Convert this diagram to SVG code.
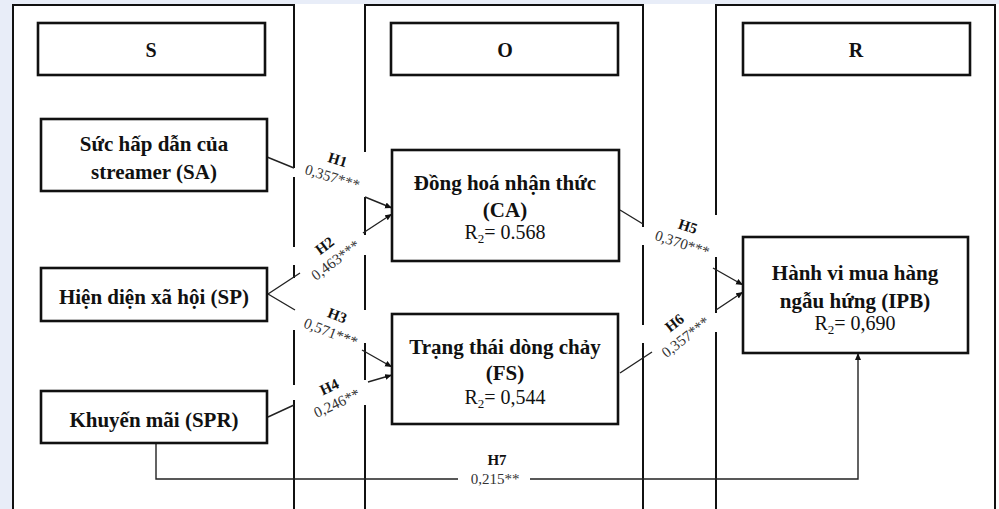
<svg xmlns="http://www.w3.org/2000/svg" width="999" height="509" viewBox="0 0 999 509">
<style>
.bg{fill:#e8edf8}
.panel{fill:none;stroke:#111;stroke-width:2}
.box{fill:#fff;stroke:#111;stroke-width:2.6}
.t{font-family:"Liberation Serif","Times New Roman",serif;fill:#111;text-anchor:middle}
.b{font-weight:bold;font-size:21px}
.h{font-weight:bold;font-size:20px}
.r{font-size:20px}
.lh{font-weight:bold;font-size:15px}
.lv{font-size:15px;fill:#333}
.c{fill:none;stroke:#222;stroke-width:1.4}
</style>
<defs>
<marker id="ah" markerUnits="userSpaceOnUse" markerWidth="8" markerHeight="7" refX="7" refY="3" orient="auto">
<path d="M0,0 L7,3 L0,6 z" fill="#111"/>
</marker>
</defs>
<rect class="bg" x="0" y="0" width="999" height="509"/>
<rect x="12" y="4" width="987" height="505" fill="#fff"/>

<g id="panel-S">
<path class="panel" d="M13,520 V5 H294 V168 M294,177 V247 M294,265 V278 M294,330 V385 M294,400 V520"/>
<rect class="box" x="38" y="23" width="227" height="52"/>
<text class="t h" x="151" y="57">S</text>
</g>
<g id="panel-O">
<path class="panel" d="M365,152 V5 H643 V227 M643,245 V325 M643,343 V520 M365,197 V235 M365,255 V310 M365,343 V380 M365,405 V520"/>
<rect class="box" x="391" y="23" width="227" height="52"/>
<text class="t h" x="505" y="57">O</text>
</g>
<g id="panel-R">
<path class="panel" d="M716,215 V5 H995 V520 M716,257 V313 M716,332 V520"/>
<rect class="box" x="743" y="23" width="227" height="52"/>
<text class="t h" x="856" y="57">R</text>
</g>

<g id="connectors">
<path class="c" d="M267,157 L294,168 M365,197 L392,208" marker-end="url(#ah)"/>
<path class="c" d="M268,294 L300,273 M363,233 L392,214" marker-end="url(#ah)"/>
<path class="c" d="M268,294 L295,310 M362,350 L392,367" marker-end="url(#ah)"/>
<path class="c" d="M268,417 L294,405 M368,382 L392,375" marker-end="url(#ah)"/>
<path class="c" d="M620,210 L643,224 M713,268 L743,285" marker-end="url(#ah)"/>
<path class="c" d="M620,373 L652,352 M716,310 L743,292" marker-end="url(#ah)"/>
<path class="c" d="M156,443 V479 H458 M530,479 H858 V353" stroke="#444" stroke-width="1.2" marker-end="url(#ah)"/>
</g>

<g id="labels">
<g transform="translate(335,168.5) rotate(17)"><text class="t lh" x="0" y="-4">H1</text><text class="t lv" x="0" y="14">0,357***</text></g>
<g transform="translate(330,253) rotate(-37)"><text class="t lh" x="0" y="-4">H2</text><text class="t lv" x="0" y="14">0,463***</text></g>
<g transform="translate(334,324) rotate(21)"><text class="t lh" x="0" y="-4">H3</text><text class="t lv" x="0" y="14">0,571***</text></g>
<g transform="translate(333,395) rotate(-25)"><text class="t lh" x="0" y="-4">H4</text><text class="t lv" x="0" y="14">0,246**</text></g>
<g transform="translate(685,235) rotate(18)"><text class="t lh" x="0" y="-4">H5</text><text class="t lv" x="0" y="14">0,370***</text></g>
<g transform="translate(680,330) rotate(-38)"><text class="t lh" x="0" y="-4">H6</text><text class="t lv" x="0" y="14">0,357***</text></g>
<g><text class="t lh" x="497" y="465">H7</text><text class="t lv" x="495" y="484">0,215**</text></g>
</g>

<g id="SA">
<rect class="box" x="41" y="119" width="226" height="72"/>
<text class="t b" x="154" y="151">Sức hấp dẫn của</text>
<text class="t b" x="154" y="179">streamer (SA)</text>
</g>
<g id="SP">
<rect class="box" x="41" y="268" width="226" height="53"/>
<text class="t b" x="154" y="304">Hiện diện xã hội (SP)</text>
</g>
<g id="SPR">
<rect class="box" x="41" y="391" width="226" height="52"/>
<text class="t b" x="154" y="427">Khuyến mãi (SPR)</text>
</g>
<g id="CA">
<rect class="box" x="392" y="150" width="227" height="111"/>
<text class="t b" x="505" y="190">Đồng hoá nhận thức</text>
<text class="t b" x="505" y="217">(CA)</text>
<text class="t r" x="505" y="239">R<tspan font-size="13" dy="4">2</tspan><tspan dy="-4">= 0.568</tspan></text>
</g>
<g id="FS">
<rect class="box" x="392" y="314" width="226" height="110"/>
<text class="t b" x="505" y="354">Trạng thái dòng chảy</text>
<text class="t b" x="505" y="380">(FS)</text>
<text class="t r" x="505" y="404">R<tspan font-size="13" dy="4">2</tspan><tspan dy="-4">= 0,544</tspan></text>
</g>
<g id="IPB">
<rect class="box" x="743" y="237" width="225" height="116"/>
<text class="t b" x="855" y="280">Hành vi mua hàng</text>
<text class="t b" x="855" y="308">ngẫu hứng (IPB)</text>
<text class="t r" x="855" y="330">R<tspan font-size="13" dy="4">2</tspan><tspan dy="-4">= 0,690</tspan></text>
</g>
</svg>
